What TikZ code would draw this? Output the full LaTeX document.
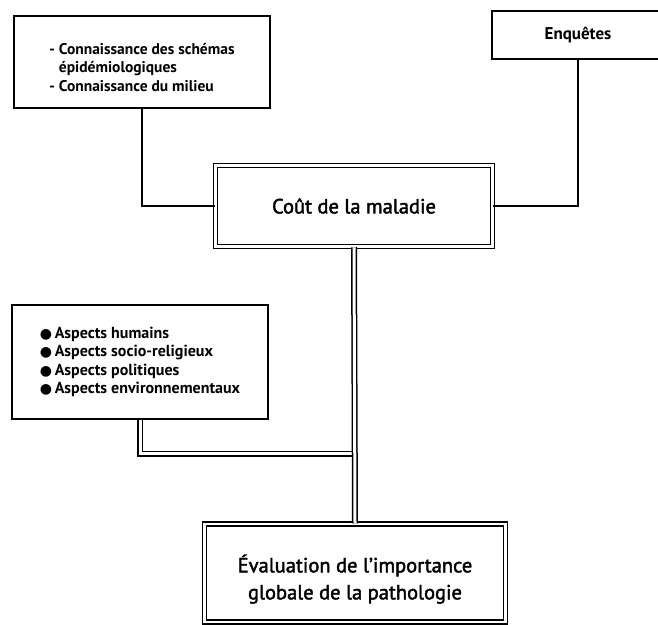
\documentclass[tikz,border=0pt]{standalone}
\usepackage{fontspec}
\setmainfont{PT Sans}
\newfontfamily\symfont{DejaVu Sans}
\newfontfamily\heavyfont[FakeBold=2]{PT Sans}
\usetikzlibrary{positioning}
\newcommand{\puce}{{\symfont\fontsize{14}{18}\selectfont ●}\,}

\begin{document}
\begin{tikzpicture}[x=1pt,y=-1pt]
		\tikzstyle{infoblock} = [rectangle, draw, line width = 1.2pt, align = left, font = \bfseries\fontsize{16}{18.5}\selectfont];
		\tikzstyle{mainblock} = [rectangle, draw, double, line width = 1.5pt, double distance = 2.4pt, align = center, font = \heavyfont\fontsize{20.5}{27}\selectfont];
		\tikzstyle{link} = [draw, line width = 1.3pt];
		\tikzstyle{duallink} = [draw, double, line width = 1.5pt, double distance = 3pt];
		\useasboundingbox (0,0) rectangle (658,624);
		\node (schemas) at (142,62) [infoblock, font = \bfseries\fontsize{15.5}{18.5}\selectfont, minimum width = 256pt, minimum height = 92pt] {\rule{0pt}{22pt}- Connaissance des schémas\\\phantom{- }épidémiologiques\\- Connaissance du milieu};
		\node (enquetes) at (578,35) [infoblock, font = \bfseries\fontsize{17}{18}\selectfont, minimum width = 172pt, minimum height = 48pt] {Enquêtes};
		\node (cout) at (354,206) [mainblock, minimum width = 277pt, minimum height = 81pt] {Coût de la maladie};
		\node (aspects) at (140,362) [infoblock, minimum width = 256pt, minimum height = 114pt] {\puce Aspects humains\\\puce Aspects socio-religieux\\\puce Aspects politiques\\\puce Aspects environnementaux};
		\node (eval) at (355,573) [mainblock, minimum width = 301pt, minimum height = 98pt] {\rule{0pt}{30pt}Évaluation de l’importance\\globale de la pathologie};
		\path [link] (schemas.south) |- (cout.west);
		\path [link] (enquetes.south) |- (cout.east);
		\path [duallink] (aspects.south) -- ++(0,34) coordinate (bend) -- (bend -| cout.south);
		\path [duallink] (cout.south) -- (eval.north);
	\end{tikzpicture}
\end{document}
